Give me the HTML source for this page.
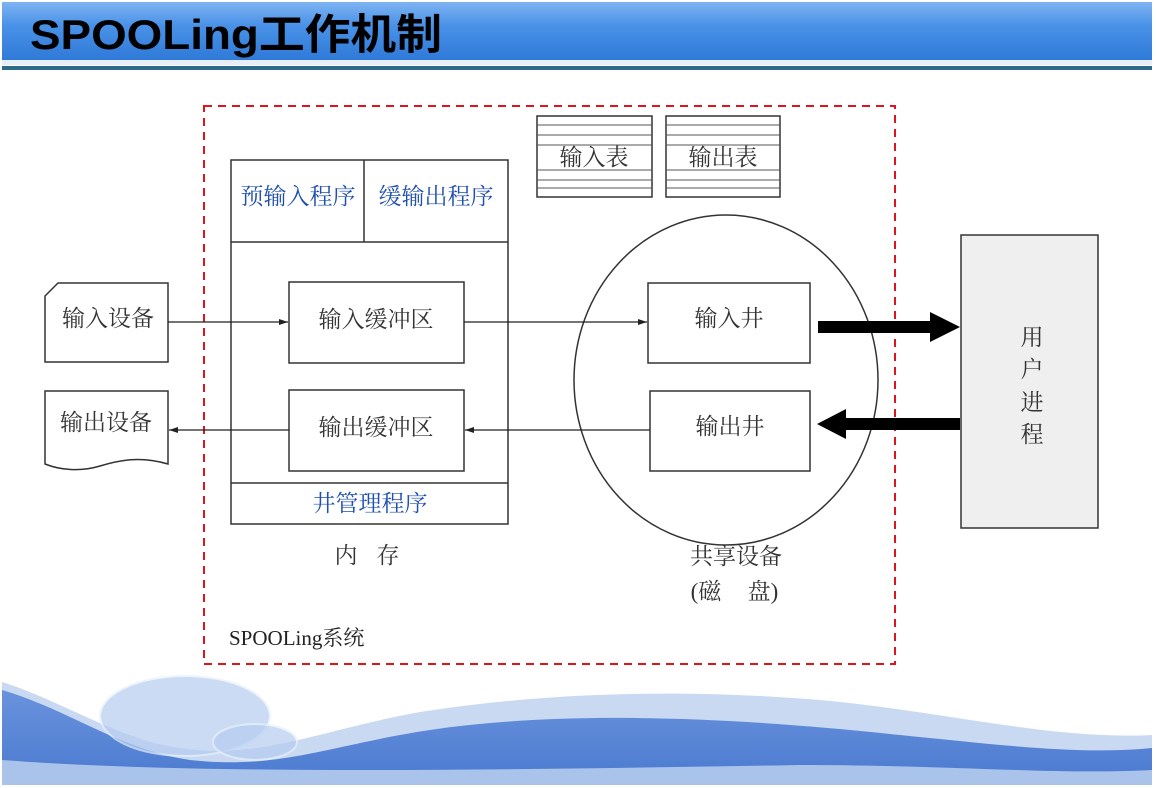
<!DOCTYPE html>
<html><head><meta charset="utf-8"><style>
html,body{margin:0;padding:0;background:#fff}
body{width:1156px;height:788px;overflow:hidden;position:relative}
svg{position:absolute;left:0;top:0}
.t{font-family:"Liberation Serif","Noto Serif CJK SC","Noto Sans CJK SC",serif;fill:#333;font-size:23px}
.b{fill:#1f4fb0}
</style></head><body>
<svg width="1156" height="788" viewBox="0 0 1156 788" xmlns="http://www.w3.org/2000/svg">
<defs>
<linearGradient id="hd" x1="0" y1="0" x2="0" y2="1">
<stop offset="0" stop-color="#7fb4f2"/><stop offset="0.4" stop-color="#4a92e8"/><stop offset="1" stop-color="#2f7ad8"/></linearGradient>
<linearGradient id="wv" x1="0" y1="0" x2="0" y2="1">
<stop offset="0" stop-color="#6a93dd"/><stop offset="1" stop-color="#4a79cf"/></linearGradient>
<marker id="ar" markerWidth="10" markerHeight="8" refX="9" refY="4" orient="auto" markerUnits="userSpaceOnUse"><path d="M0,1 L9,4 L0,7 Z" fill="#222"/></marker>
</defs>
<rect x="0" y="0" width="1156" height="788" fill="#fff"/>
<rect x="2" y="2" width="1150" height="58" fill="url(#hd)"/>
<rect x="2" y="60" width="1150" height="5" fill="#e6eef8"/>
<rect x="2" y="66" width="1150" height="4" fill="#2e6a8a"/>
<text x="30" y="49" font-family="Liberation Sans,'Noto Sans CJK SC',sans-serif" font-weight="bold" font-size="42" fill="#000" textLength="412" lengthAdjust="spacingAndGlyphs">SPOOLing工作机制</text>

<!-- bottom wave -->
<path d="M2,682 C60,700 120,740 180,748 C260,760 320,730 420,712 C560,690 700,690 820,700 C950,712 1050,740 1152,735 L1152,785 L2,785 Z" fill="#c9d9f1"/>
<path d="M2,690 C70,710 120,750 190,760 C280,770 330,745 430,730 C580,708 760,720 900,735 C1000,745 1080,755 1152,748 L1152,785 L2,785 Z" fill="url(#wv)"/>
<path d="M2,760 C200,775 500,770 800,765 C950,765 1060,775 1152,770 L1152,785 L2,785 Z" fill="#a9c3ea"/>
<ellipse cx="185" cy="716" rx="85" ry="40" fill="#b6cdf0" opacity="0.7" stroke="#e8f0fc" stroke-width="2"/>
<ellipse cx="255" cy="742" rx="42" ry="18" fill="#b6cdf0" opacity="0.7" stroke="#e8f0fc" stroke-width="2"/>

<!-- red dashed -->
<rect x="204" y="106" width="691" height="558" fill="none" stroke="#e0141e" stroke-width="2" stroke-dasharray="8,6"/>

<!-- tables -->
<g stroke="#333" stroke-width="1.5" fill="#fff">
<rect x="537" y="116" width="115" height="81"/>
<rect x="666" y="116" width="114" height="81"/>
</g>
<g stroke="#555" stroke-width="1">
<line x1="537" y1="125" x2="652" y2="125"/><line x1="537" y1="135" x2="652" y2="135"/><line x1="537" y1="145" x2="652" y2="145"/>
<line x1="537" y1="170" x2="652" y2="170"/><line x1="537" y1="180" x2="652" y2="180"/><line x1="537" y1="188" x2="652" y2="188"/>
<line x1="666" y1="125" x2="780" y2="125"/><line x1="666" y1="135" x2="780" y2="135"/><line x1="666" y1="145" x2="780" y2="145"/>
<line x1="666" y1="170" x2="780" y2="170"/><line x1="666" y1="180" x2="780" y2="180"/><line x1="666" y1="188" x2="780" y2="188"/>
</g>
<text class="t" x="594" y="165" text-anchor="middle">输入表</text>
<text class="t" x="723" y="165" text-anchor="middle">输出表</text>

<!-- memory -->
<g stroke="#333" stroke-width="1.5" fill="none">
<rect x="231" y="160" width="277" height="364"/>
<line x1="231" y1="242" x2="508" y2="242"/>
<line x1="364" y1="160" x2="364" y2="242"/>
<line x1="231" y1="483" x2="508" y2="483"/>
<rect x="289" y="282" width="175" height="81"/>
<rect x="289" y="390" width="175" height="81"/>
</g>
<text class="t b" x="298" y="204" text-anchor="middle">预输入程序</text>
<text class="t b" x="436" y="204" text-anchor="middle">缓输出程序</text>
<text class="t b" x="370" y="511" text-anchor="middle">井管理程序</text>
<text class="t" x="376" y="327" text-anchor="middle">输入缓冲区</text>
<text class="t" x="376" y="435" text-anchor="middle">输出缓冲区</text>
<text class="t" x="346" y="563" text-anchor="middle">内</text>
<text class="t" x="388" y="563" text-anchor="middle">存</text>

<!-- devices -->
<g stroke="#333" stroke-width="1.5" fill="#fff">
<path d="M58,283 L168,283 L168,362 L45,362 L45,296 Z"/>
<path d="M45,391 L168,391 L168,464 C140,456 120,460 100,466 C80,472 60,470 45,464 Z"/>
</g>
<text class="t" x="108" y="326" text-anchor="middle">输入设备</text>
<text class="t" x="106" y="430" text-anchor="middle">输出设备</text>

<!-- circle -->
<ellipse cx="726" cy="380" rx="152" ry="165" fill="none" stroke="#333" stroke-width="1.5"/>
<g stroke="#333" stroke-width="1.5" fill="#fff">
<rect x="648" y="283" width="162" height="80"/>
<rect x="650" y="391" width="160" height="80"/>
</g>
<text class="t" x="729" y="326" text-anchor="middle">输入井</text>
<text class="t" x="730" y="434" text-anchor="middle">输出井</text>
<text class="t" x="736" y="564" text-anchor="middle">共享设备</text>
<text class="t" x="706" y="599" text-anchor="middle">(磁</text>
<text class="t" x="763" y="599" text-anchor="middle">盘)</text>

<!-- user process -->
<rect x="961" y="235" width="137" height="293" fill="#efefef" stroke="#333" stroke-width="1.5"/>
<text class="t" x="1032" y="345" text-anchor="middle">用</text>
<text class="t" x="1032" y="377" text-anchor="middle">户</text>
<text class="t" x="1032" y="410" text-anchor="middle">进</text>
<text class="t" x="1032" y="442" text-anchor="middle">程</text>

<!-- thin arrows -->
<g stroke="#222" stroke-width="1.2" fill="none">
<line x1="168" y1="322" x2="288" y2="322" marker-end="url(#ar)"/>
<line x1="464" y1="322" x2="647" y2="322" marker-end="url(#ar)"/>
<line x1="650" y1="430" x2="465" y2="430" marker-end="url(#ar)"/>
<line x1="289" y1="430" x2="169" y2="430" marker-end="url(#ar)"/>
</g>
<!-- thick arrows -->
<path d="M818,321 L930,321 L930,312 L960,327 L930,342 L930,333 L818,333 Z" fill="#000"/>
<path d="M960,418 L846,418 L846,409 L817,424 L846,439 L846,430 L960,430 Z" fill="#000"/>

<text x="229" y="645" font-family="Liberation Serif,'Noto Serif CJK SC',serif" font-size="21" fill="#222">SPOOLing系统</text>
</svg>
</body></html>
